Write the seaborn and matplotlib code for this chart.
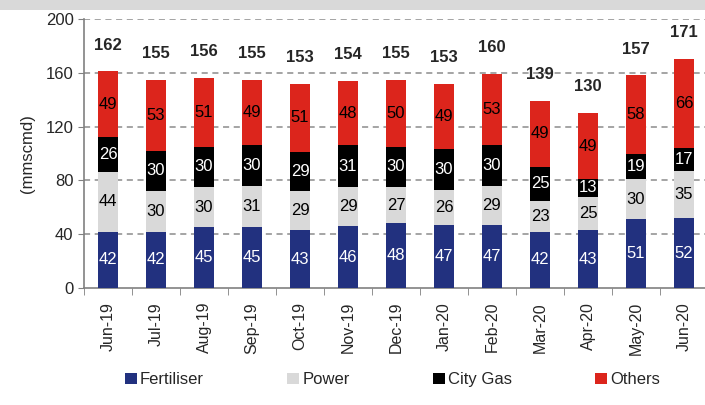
import numpy as np
import pandas as pd
import matplotlib
matplotlib.use("Agg")
import matplotlib.pyplot as plt
import seaborn as sns
from matplotlib.patches import Patch, Rectangle

months = ["Jun-19", "Jul-19", "Aug-19", "Sep-19", "Oct-19", "Nov-19", "Dec-19",
          "Jan-20", "Feb-20", "Mar-20", "Apr-20", "May-20", "Jun-20"]
fertiliser = [42, 42, 45, 45, 43, 46, 48, 47, 47, 42, 43, 51, 52]
power      = [44, 30, 30, 31, 29, 29, 27, 26, 29, 23, 25, 30, 35]
city_gas   = [26, 30, 30, 30, 29, 31, 30, 30, 30, 25, 13, 19, 17]
others     = [49, 53, 51, 49, 51, 48, 50, 49, 53, 49, 49, 58, 66]
totals     = [162, 155, 156, 155, 153, 154, 155, 153, 160, 139, 130, 157, 171]

series = ["Fertiliser", "Power", "City Gas", "Others"]
colors = {"Fertiliser": "#22317F", "Power": "#D9D9D9", "City Gas": "#000000", "Others": "#DC251C"}
txt_col = {"Fertiliser": "white", "Power": "black", "City Gas": "white", "Others": "black"}

df = pd.DataFrame({"month": months, "Fertiliser": fertiliser, "Power": power,
                   "City Gas": city_gas, "Others": others})
cum = df[series].cumsum(axis=1)
base = cum - df[series]

sns.set_style("white")
plt.rcParams["font.family"] = ["Liberation Sans", "DejaVu Sans"]

fig = plt.figure(figsize=(7.05, 4.05), dpi=100)
ax = fig.add_axes([84 / 705, 117 / 405, 624 / 705, 269 / 405])

# overplot cumulative heights, tallest first
for s in reversed(series):
    sns.barplot(x=df["month"], y=cum[s], color=colors[s], width=0.42,
                saturation=1, ax=ax, zorder=3, linewidth=0)

# segment labels
for s in series:
    for i in range(len(months)):
        v = df[s][i]
        y = base[s][i] + v / 2
        ax.text(i, y, str(v), ha="center", va="center", fontsize=12,
                color=txt_col[s], zorder=5)

# totals
for i, t in enumerate(totals):
    ax.annotate(str(t), (i, cum["Others"][i]), xytext=(0, 19), textcoords="offset points",
                ha="center", va="center", fontsize=12, fontweight="bold", zorder=5)

ax.set_ylim(0, 200)
ax.set_xlim(-0.5, 12.5)
ax.set_yticks(range(0, 201, 40))
for yv in range(40, 201, 40):
    ax.axhline(yv, color="#8C8C8C", linestyle=(0, (4, 3)), linewidth=1.1, zorder=1)

ax.set_xlabel("")
ax.set_ylabel("(mmscmd)", fontsize=12, labelpad=8)
ax.tick_params(axis="y", labelsize=12, length=4, color="#808080", direction="out", left=True)
ax.set_xticks(range(len(months)))
ax.set_xticklabels(months, rotation=90, fontsize=11.5)
ax.tick_params(axis="x", which="major", length=0, pad=10)
ax.set_xticks(np.arange(-0.5, 13, 1), minor=True)
ax.tick_params(axis="x", which="minor", length=5, color="#808080", direction="out", bottom=True)

for sp in ["top", "right"]:
    ax.spines[sp].set_visible(False)
for sp in ["left", "bottom"]:
    ax.spines[sp].set_color("#808080")
    ax.spines[sp].set_linewidth(1.2)

handles = [Patch(facecolor=colors[s], edgecolor="none") for s in series]
fig.legend(handles, series, loc="center", bbox_to_anchor=(0.557, 0.062), ncol=4,
           frameon=False, fontsize=12, handlelength=0.7, handleheight=0.7,
           handletextpad=0.2, columnspacing=5.0)

# grey header strip from cropped title
fig.patches.append(Rectangle((0, 395 / 405), 1, 10 / 405, transform=fig.transFigure,
                             facecolor="#D9D9D9", edgecolor="none"))

fig.savefig("out.png", dpi=100)
